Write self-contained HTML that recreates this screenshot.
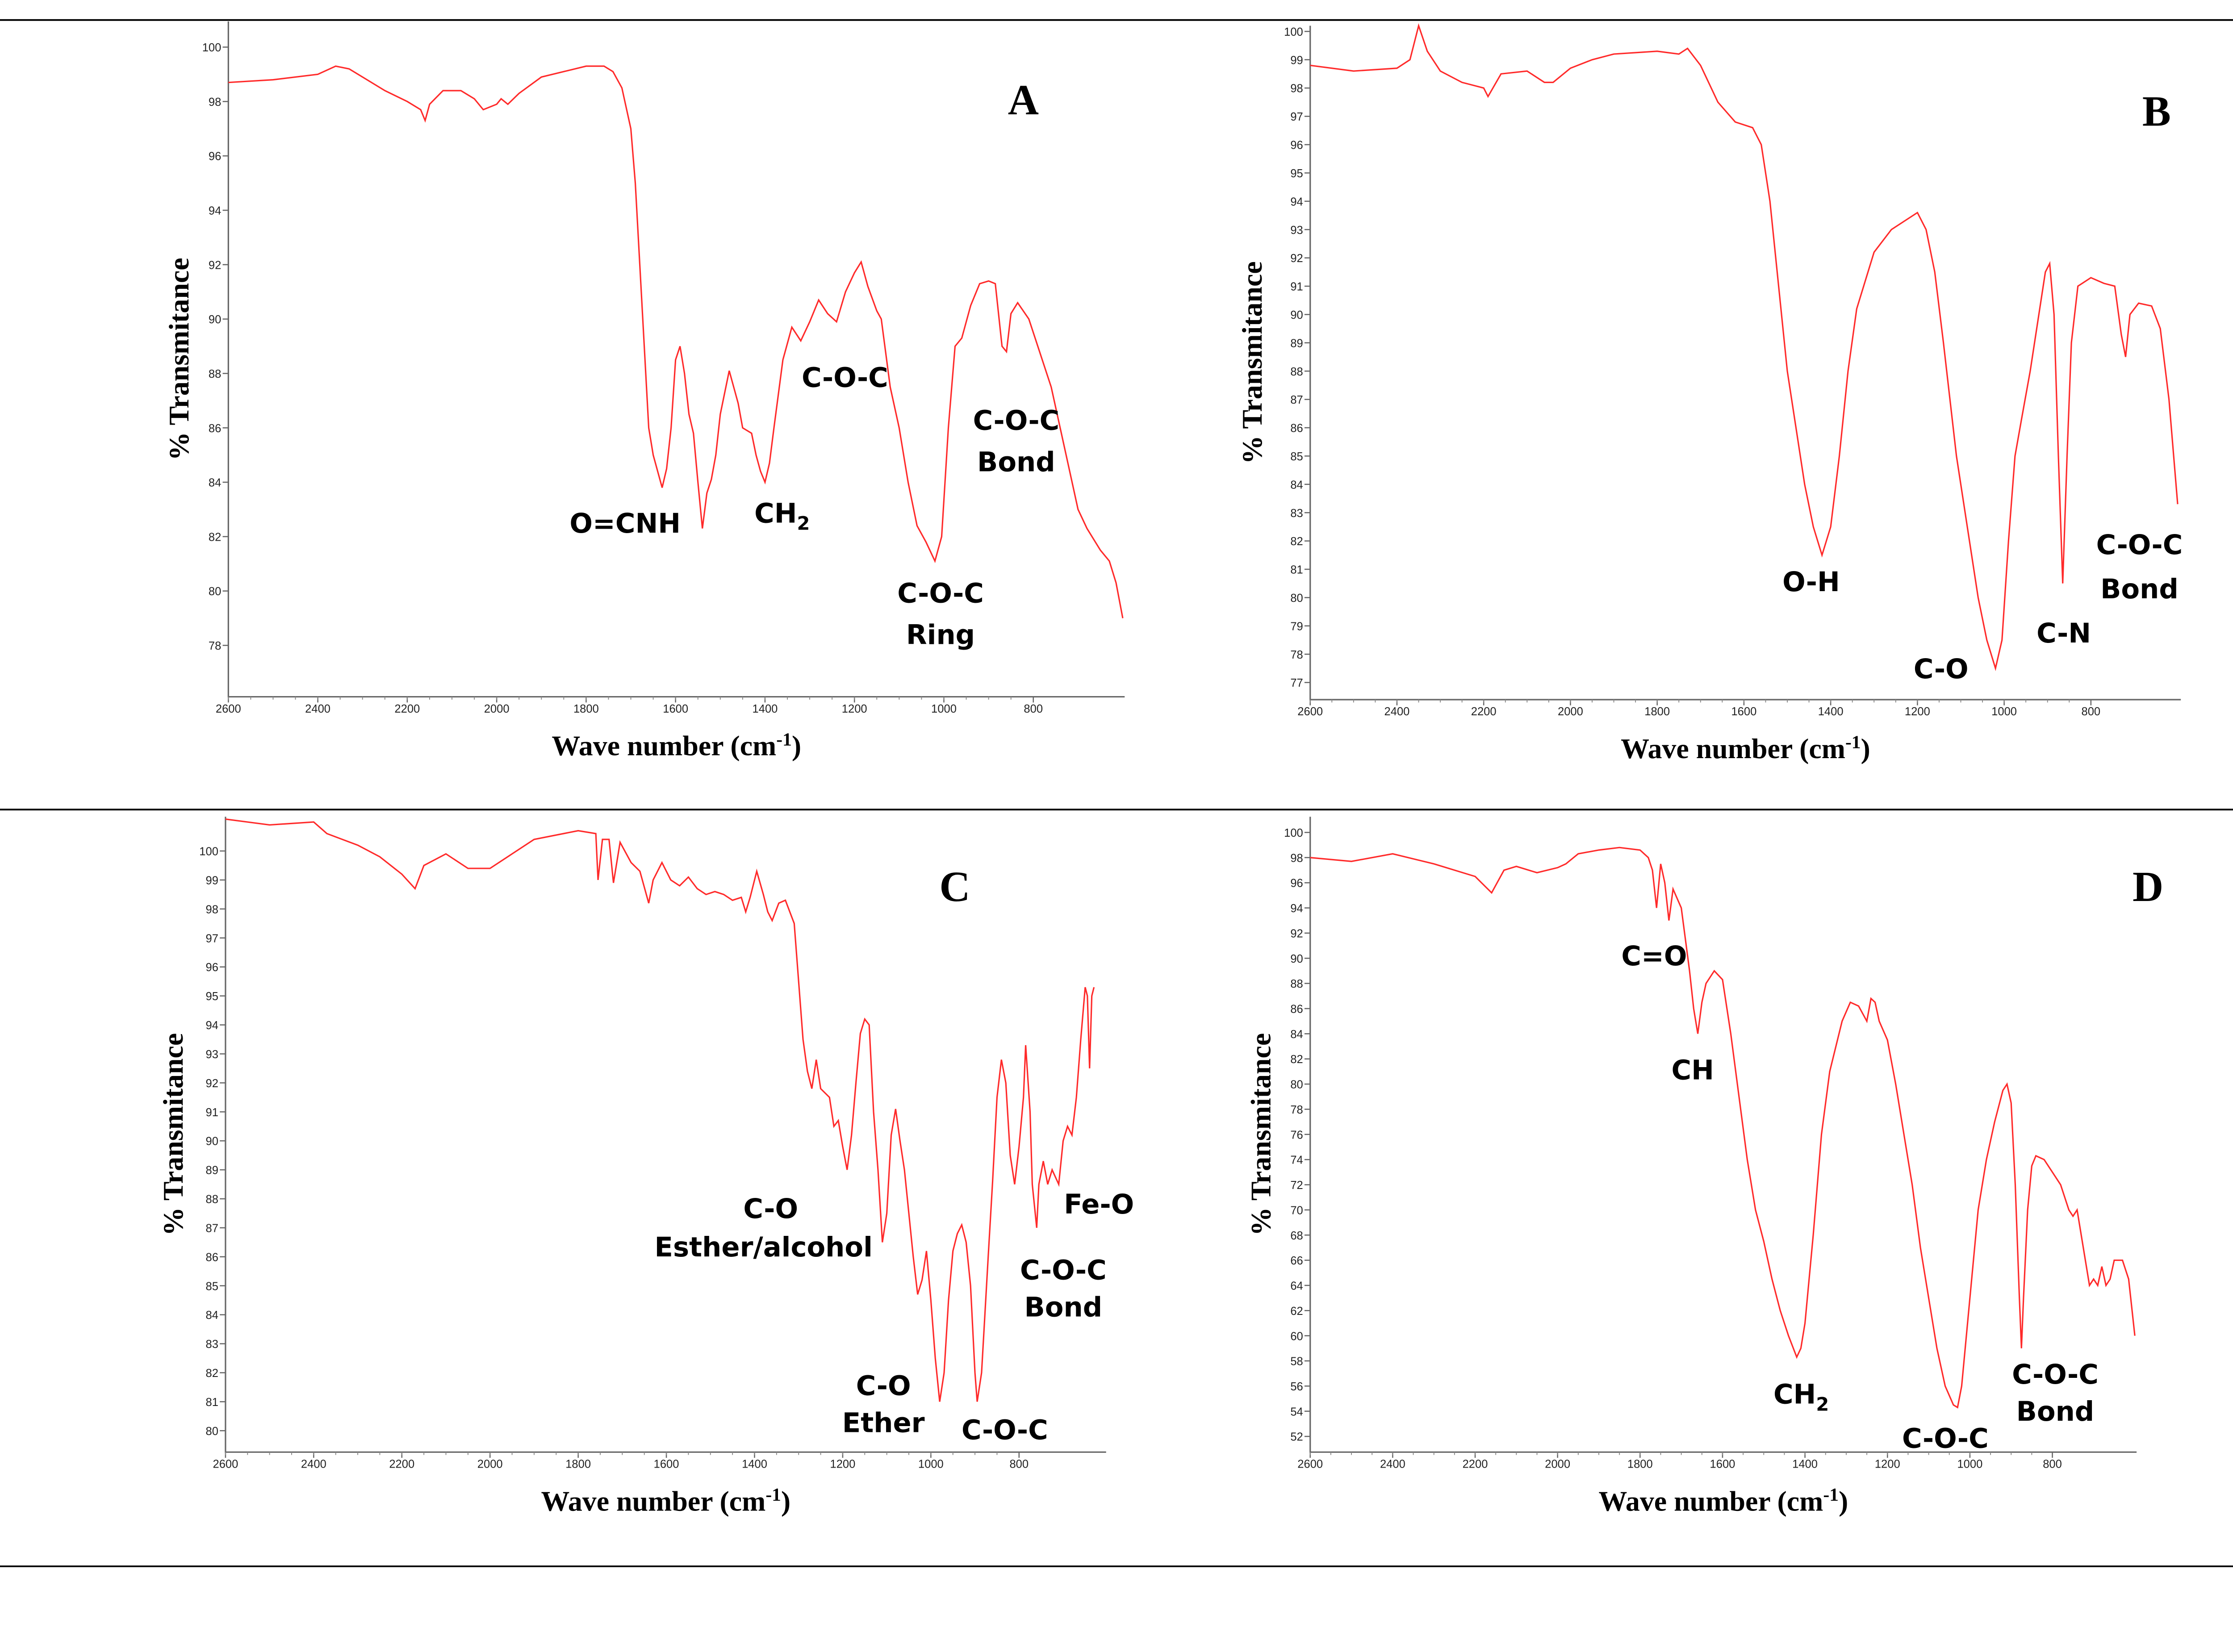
<!DOCTYPE html>
<html><head><meta charset="utf-8"><style>
html,body{margin:0;padding:0;background:#fff;}
svg{display:block;}
.tick{font-family:"Liberation Sans",sans-serif;font-size:8px;fill:#222;}
.ann{font-family:"DejaVu Sans","Liberation Sans",sans-serif;font-weight:bold;font-size:19px;fill:#000;}
.ttl{font-family:"Liberation Serif",serif;font-weight:bold;font-size:20px;fill:#000;}
.lbl{font-family:"Liberation Serif",serif;font-weight:bold;font-size:30px;fill:#000;}
</style></head><body>
<svg id="fig" width="5011" height="3700" viewBox="0 0 1568 1157" preserveAspectRatio="none" xmlns="http://www.w3.org/2000/svg">
<line x1="0" y1="14" x2="1568" y2="14" stroke="#000" stroke-width="1.2"/>
<line x1="0" y1="567" x2="1568" y2="567" stroke="#000" stroke-width="1.2"/>
<line x1="0" y1="1097" x2="1568" y2="1097" stroke="#000" stroke-width="1.2"/>
</svg>
<script>
const xTicks=[2600,2400,2200,2000,1800,1600,1400,1200,1000,800];
const wnA=[2600,2500,2400,2360,2330,2300,2250,2200,2170,2160,2150,2120,2080,2050,2030,2000,1990,1975,1950,1900,1850,1800,1760,1740,1720,1700,1690,1680,1670,1660,1650,1640,1630,1620,1610,1600,1590,1580,1570,1560,1550,1540,1530,1520,1510,1500,1480,1470,1460,1450,1430,1420,1410,1400,1390,1380,1360,1340,1320,1300,1280,1260,1240,1220,1200,1185,1170,1150,1140,1120,1100,1080,1060,1040,1020,1005,990,975,960,940,920,900,885,870,860,850,835,810,780,760,740,720,700,680,650,630,615,600];
const tA=[98.7,98.8,99.0,99.3,99.2,98.9,98.4,98.0,97.7,97.3,97.9,98.4,98.4,98.1,97.7,97.9,98.1,97.9,98.3,98.9,99.1,99.3,99.3,99.1,98.5,97,95,92,89,86,85,84.4,83.8,84.5,86,88.5,89,88,86.5,85.8,84,82.3,83.6,84.1,85,86.5,88.1,87.5,86.9,86.0,85.8,85.0,84.4,84.0,84.7,86,88.5,89.7,89.2,89.9,90.7,90.2,89.9,91,91.7,92.1,91.2,90.3,90.0,87.5,86,84,82.4,81.8,81.1,82,86,89,89.3,90.5,91.3,91.4,91.3,89,88.8,90.2,90.6,90.0,88.5,87.5,86.0,84.5,83.0,82.3,81.5,81.1,80.3,79.0];
const wnB=[2600,2500,2400,2370,2350,2330,2300,2250,2200,2190,2160,2100,2060,2040,2000,1950,1900,1800,1750,1730,1700,1660,1620,1580,1560,1540,1520,1500,1480,1460,1440,1420,1400,1380,1360,1340,1300,1260,1220,1200,1180,1160,1140,1110,1080,1060,1040,1020,1005,990,975,960,940,920,905,895,885,875,865,855,845,830,800,770,745,730,720,710,690,660,640,620,600];
const tB=[98.8,98.6,98.7,99.0,100.2,99.3,98.6,98.2,98.0,97.7,98.5,98.6,98.2,98.2,98.7,99.0,99.2,99.3,99.2,99.4,98.8,97.5,96.8,96.6,96.0,94,91,88,86,84,82.5,81.5,82.5,85,88,90.2,92.2,93.0,93.4,93.6,93.0,91.5,89,85,82,80,78.5,77.5,78.5,82,85,86.3,88,90,91.5,91.8,90,85,80.5,85,89,91,91.3,91.1,91.0,89.3,88.5,90.0,90.4,90.3,89.5,87,83.3];
const wnC=[2600,2500,2400,2370,2300,2250,2200,2170,2150,2100,2050,2000,1950,1900,1800,1760,1755,1745,1730,1720,1705,1680,1660,1640,1630,1610,1590,1570,1550,1530,1510,1490,1470,1450,1430,1420,1410,1395,1380,1370,1360,1345,1330,1310,1300,1290,1280,1270,1260,1250,1230,1220,1210,1200,1190,1180,1170,1160,1150,1140,1130,1120,1110,1100,1090,1080,1070,1060,1050,1040,1030,1020,1010,1000,990,980,970,960,950,940,930,920,910,900,895,885,870,860,850,840,830,820,810,800,790,785,775,770,760,755,745,735,725,710,700,690,680,670,660,650,645,640,635,630];
const tC=[101.1,100.9,101.0,100.6,100.2,99.8,99.2,98.7,99.5,99.9,99.4,99.4,99.9,100.4,100.7,100.6,99,100.4,100.4,98.9,100.3,99.6,99.3,98.2,99.0,99.6,99.0,98.8,99.1,98.7,98.5,98.6,98.5,98.3,98.4,97.9,98.4,99.3,98.5,97.9,97.6,98.2,98.3,97.5,95.5,93.5,92.4,91.8,92.8,91.8,91.5,90.5,90.7,89.8,89.0,90.2,92,93.7,94.2,94.0,91,89,86.5,87.5,90.2,91.1,90,89,87.5,86,84.7,85.2,86.2,84.5,82.5,81.0,82,84.5,86.2,86.8,87.1,86.5,85,82,81.0,82.0,86,88.6,91.5,92.8,92.0,89.5,88.5,89.8,91.5,93.3,91,88.5,87.0,88.5,89.3,88.5,89,88.5,90,90.5,90.2,91.5,93.5,95.3,95.0,92.5,95.0,95.3];
const wnD=[2600,2500,2400,2300,2200,2160,2130,2100,2050,2000,1980,1950,1900,1850,1800,1780,1770,1760,1750,1740,1730,1720,1700,1680,1670,1660,1650,1640,1620,1600,1580,1560,1540,1520,1500,1480,1460,1440,1420,1410,1400,1380,1360,1340,1310,1290,1270,1250,1240,1230,1220,1200,1180,1160,1140,1120,1100,1080,1060,1040,1030,1020,1000,980,960,940,920,910,900,890,880,875,870,860,850,840,820,800,780,760,750,740,730,720,710,700,690,680,670,660,650,630,615,600];
const tD=[98,97.7,98.3,97.5,96.5,95.2,97.0,97.3,96.8,97.2,97.5,98.3,98.6,98.8,98.6,98,97,94,97.5,96,93,95.5,94,89,86,84,86.5,88,89,88.3,84,79,74,70,67.5,64.5,62,60,58.3,59,61,68,76,81,85,86.5,86.2,85,86.8,86.5,85,83.5,80,76,72,67,63,59,56,54.5,54.3,56,63,70,74,77,79.5,80,78.5,72,63,59,63,70,73.5,74.3,74,73,72,70,69.5,70,68,66,64,64.5,64,65.5,64,64.5,66,66,64.5,60];
const yTicksA=[78,80,82,84,86,88,90,92,94,96,98,100];
const yTicksB=[77,78,79,80,81,82,83,84,85,86,87,88,89,90,91,92,93,94,95,96,97,98,99,100];
const yTicksC=[80,81,82,83,84,85,86,87,88,89,90,91,92,93,94,95,96,97,98,99,100];
const yTicksD=[52,54,56,58,60,62,64,66,68,70,72,74,76,78,80,82,84,86,88,90,92,94,96,98,100];

const NS="http://www.w3.org/2000/svg";
const svg=document.getElementById('fig');
function mk(tag,attrs,parent,text){const e=document.createElementNS(NS,tag);for(const k in attrs)e.setAttribute(k,attrs[k]);if(text!==undefined)e.textContent=text;(parent||svg).appendChild(e);return e;}

function panel(p){
  const g=mk('g',{});
  
  
  const sx=w=>p.x0+(p.w0-w)/(p.w0-p.w1)*(p.x1-p.x0);
  const sy=t=>p.yA+(p.tA-t)/(p.tA-p.tB)*(p.yB-p.yA);
  const ax=mk('path',{d:`M${p.L} ${p.T} V${p.B} H${p.R}`,fill:'none',stroke:'#666','stroke-width':1},g);
  
  
  xTicks.forEach(v=>{const x=sx(v);
    mk('line',{x1:x,y1:p.B,x2:x,y2:p.B+4,stroke:'#666','stroke-width':0.8},g);
    const t=mk('text',{x:x,y:p.B+11,'text-anchor':'middle',class:'tick'},g,String(v));
    
    
  });
  for(let v=2600;v>p.w1;v-=50){const x=sx(v);mk('line',{x1:x,y1:p.B,x2:x,y2:p.B+2,stroke:'#888','stroke-width':0.6},g);}
  p.yt.forEach(v=>{const y=sy(v);
    mk('line',{x1:p.L-4,y1:y,x2:p.L,y2:y,stroke:'#666','stroke-width':0.8},g);
    const t=mk('text',{x:p.L-5,y:y+3,'text-anchor':'end',class:'tick'},g,String(v));
    
    
  });
  let d='';p.wn.forEach((w,i)=>{d+=(i?'L':'M')+sx(w).toFixed(2)+' '+sy(p.t[i]).toFixed(2);});
  const ln=mk('path',{d:d,fill:'none',stroke:'#ff2a2a','stroke-width':1},g);
  
  
  const yt=mk('text',{x:0,y:0,class:'ttl',transform:`translate(${p.ytx},${(p.T+p.B)/2}) rotate(-90)`,'text-anchor':'middle'},g,'% Transmitance');
  
  
  const xt=mk('text',{x:(p.L+p.R)/2,y:p.B+41,class:'ttl','text-anchor':'middle'},g);
  
  
  mk('tspan',{},xt,'Wave number (cm');
  mk('tspan',{dy:-7,'font-size':13},xt,'-1');
  mk('tspan',{dy:7},xt,')');
  const lb=mk('text',{x:p.lx,y:p.ly,class:'lbl','text-anchor':'middle'},g,p.id);
  
  
  p.anns.forEach(a=>{
    const t=mk('text',{x:a[0],y:a[1],class:'ann','text-anchor':'middle'},g);
    
    
    if(a[3]){mk('tspan',{},t,a[2]);mk('tspan',{dy:5,'font-size':13},t,a[3]);}
    else t.textContent=a[2];
  });
}

panel({id:'A',wn:wnA,t:tA,yt:yTicksA,L:160,R:788,T:15,B:488,x0:160,x1:724,w0:2600,w1:800,yA:33,yB:452,tA:100,tB:78,ytx:132,lx:717,ly:80,
  anns:[[438,373,'O=CNH'],[548,366,'CH','2'],[592,271,'C-O-C'],[712,301,'C-O-C'],[712,330,'Bond'],[659,422,'C-O-C'],[659,451,'Ring']]});
panel({id:'B',wn:wnB,t:tB,yt:yTicksB,L:918,R:1528,T:18,B:490,x0:918,x1:1465,w0:2600,w1:800,yA:22,yB:478,tA:100,tB:77,ytx:884,lx:1511,ly:88,
  anns:[[1269,414,'O-H'],[1360,475,'C-O'],[1446,450,'C-N'],[1499,388,'C-O-C'],[1499,419,'Bond']]});
panel({id:'C',wn:wnC,t:tC,yt:yTicksC,L:158,R:775,T:572,B:1017,x0:158,x1:714,w0:2600,w1:800,yA:596,yB:1002,tA:100,tB:80,ytx:128,lx:669,ly:631,
  anns:[[540,853,'C-O'],[535,880,'Esther/alcohol'],[770,850,'Fe-O'],[745,896,'C-O-C'],[745,922,'Bond'],[619,977,'C-O'],[619,1003,'Ether'],[704,1008,'C-O-C']]});
panel({id:'D',wn:wnD,t:tD,yt:yTicksD,L:918,R:1497,T:572,B:1017,x0:918,x1:1438,w0:2600,w1:800,yA:583,yB:1006,tA:100,tB:52,ytx:890,lx:1505,ly:631,
  anns:[[1159,676,'C=O'],[1186,756,'CH'],[1262,983,'CH','2'],[1363,1014,'C-O-C'],[1440,969,'C-O-C'],[1440,995,'Bond']]});
</script>
</body></html>
